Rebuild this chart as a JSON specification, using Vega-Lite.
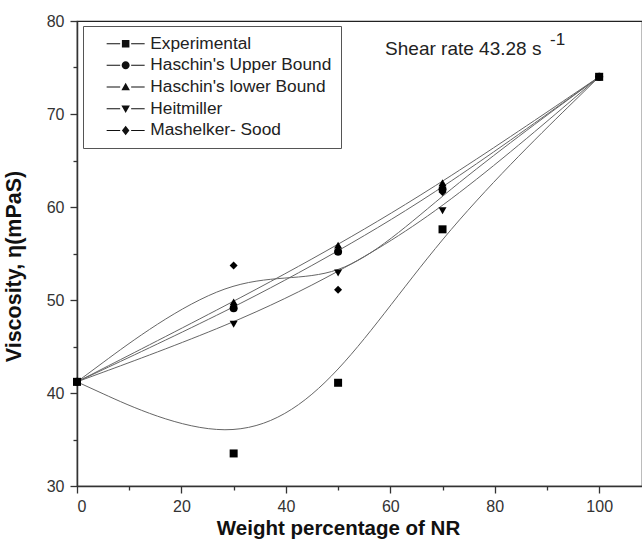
{
  "$schema": "https://vega.github.io/schema/vega-lite/v6.json",
  "width": 565,
  "height": 465,
  "autosize": "none",
  "padding": {"left": 77, "top": 21, "right": 0, "bottom": 55},
  "background": "white",
  "config": {
    "font": "Liberation Sans",
    "view": {"stroke": "#222", "strokeWidth": 1.2},
    "axis": {"domainColor": "#333", "domainWidth": 1.5, "tickColor": "#333", "tickWidth": 1.3, "labelFont": "Liberation Sans", "labelFontSize": 16, "labelColor": "#333", "titleFont": "Liberation Sans", "titleFontSize": 20.5, "titleFontWeight": "bold", "titleColor": "#111", "grid": false}
  },
  "data": {"values": [
    {"wt": 0, "visc": 41.2, "series": "Experimental"},
    {"wt": 30, "visc": 33.5, "series": "Experimental"},
    {"wt": 50, "visc": 41.1, "series": "Experimental"},
    {"wt": 70, "visc": 57.6, "series": "Experimental"},
    {"wt": 100, "visc": 74.0, "series": "Experimental"},
    {"wt": 0, "visc": 41.2, "series": "Haschin's Upper Bound"},
    {"wt": 30, "visc": 49.1, "series": "Haschin's Upper Bound"},
    {"wt": 50, "visc": 55.2, "series": "Haschin's Upper Bound"},
    {"wt": 70, "visc": 61.9, "series": "Haschin's Upper Bound"},
    {"wt": 100, "visc": 74.0, "series": "Haschin's Upper Bound"},
    {"wt": 0, "visc": 41.2, "series": "Haschin's lower Bound"},
    {"wt": 30, "visc": 49.8, "series": "Haschin's lower Bound"},
    {"wt": 50, "visc": 55.9, "series": "Haschin's lower Bound"},
    {"wt": 70, "visc": 62.6, "series": "Haschin's lower Bound"},
    {"wt": 100, "visc": 74.0, "series": "Haschin's lower Bound"},
    {"wt": 0, "visc": 41.2, "series": "Heitmiller"},
    {"wt": 30, "visc": 47.4, "series": "Heitmiller"},
    {"wt": 50, "visc": 52.9, "series": "Heitmiller"},
    {"wt": 70, "visc": 59.6, "series": "Heitmiller"},
    {"wt": 100, "visc": 74.0, "series": "Heitmiller"},
    {"wt": 0, "visc": 41.2, "series": "Mashelker- Sood"},
    {"wt": 30, "visc": 53.7, "series": "Mashelker- Sood"},
    {"wt": 50, "visc": 51.1, "series": "Mashelker- Sood"},
    {"wt": 70, "visc": 61.6, "series": "Mashelker- Sood"},
    {"wt": 100, "visc": 74.0, "series": "Mashelker- Sood"}
  ]},
  "encoding": {
    "x": {"field": "wt", "type": "quantitative", "scale": {"domain": [0, 108.2], "nice": false, "zero": false},
      "axis": {"title": "Weight percentage of NR", "values": [0,10,20,30,40,50,60,70,80,90,100], "labelExpr": "datum.value % 20 === 0 ? datum.label : ''", "tickSize": {"condition": {"test": "datum.value % 20 === 0", "value": 7}, "value": 4}, "labelPadding": 5, "titleX": 261, "titleY": 42, "titleAlign": "center", "titleBaseline": "middle", "titleAnchor": null}},
    "y": {"field": "visc", "type": "quantitative", "scale": {"domain": [30, 80], "nice": false, "zero": false},
      "axis": {"title": "Viscosity, η(mPaS)", "values": [30,35,40,45,50,55,60,65,70,75,80], "labelExpr": "datum.value % 10 === 0 ? datum.label : ''", "tickSize": {"condition": {"test": "datum.value % 10 === 0", "value": 7}, "value": 4}, "labelPadding": 6, "titleFontSize": 21.5, "titleX": -63, "titleY": 245, "titleAngle": -90, "titleAlign": "center", "titleBaseline": "middle", "titleAnchor": null}}
  },
  "layer": [
    {
      "mark": {"type": "line", "interpolate": "basis", "color": "#666", "strokeWidth": 1},
      "encoding": {"detail": {"field": "series"}}
    },
    {
      "mark": {"type": "point", "filled": true, "color": "#000", "opacity": 1, "size": 64},
      "encoding": {
        "shape": {"field": "series", "type": "nominal",
          "scale": {"domain": ["Experimental", "Haschin's Upper Bound", "Haschin's lower Bound", "Heitmiller", "Mashelker- Sood"], "range": ["square", "circle", "triangle-up", "triangle-down", "diamond"]},
          "legend": null}
      }
    },
    {
      "mark": {"type": "point", "filled": true, "color": "#111", "opacity": 0, "size": 100},
      "encoding": {
        "shape": {"field": "series", "type": "nominal",
          "scale": {"domain": ["Experimental", "Haschin's Upper Bound", "Haschin's lower Bound", "Heitmiller", "Mashelker- Sood"],
            "range": [
              "M-3.8,-0.1H-1.1V0.1H-3.8ZM1.1,-0.1H3.8V0.1H1.1ZM-0.75,-0.75H0.75V0.75H-0.75Z",
              "M-3.8,-0.1H-1.1V0.1H-3.8ZM1.1,-0.1H3.8V0.1H1.1ZM-0.8,0A0.8,0.8,0,1,0,0.8,0A0.8,0.8,0,1,0,-0.8,0Z",
              "M-3.8,-0.1H-1.1V0.1H-3.8ZM1.1,-0.1H3.8V0.1H1.1ZM0,-0.85L0.85,0.65H-0.85Z",
              "M-3.8,-0.1H-1.1V0.1H-3.8ZM1.1,-0.1H3.8V0.1H1.1ZM0,0.85L0.85,-0.65H-0.85Z",
              "M-3.8,-0.1H-1.1V0.1H-3.8ZM1.1,-0.1H3.8V0.1H1.1ZM0,-0.95L0.75,0L0,0.95L-0.75,0Z"
            ]},
          "legend": {"title": null, "orient": "none", "legendX": 6, "legendY": 5, "padding": 9, "rowPadding": 3.7,
            "strokeColor": "#555", "fillColor": "white", "symbolOpacity": 1, "symbolFillColor": "#000", "symbolStrokeWidth": 0, "symbolSize": 100,
            "symbolOffset": 25, "labelOffset": 16, "labelFontSize": 17.3, "labelFont": "Liberation Sans", "labelColor": "#222", "labelLimit": 300,
            "labelExpr": "datum.label + '   '"}}
      }
    },
    {
      "transform": [{"filter": "datum.wt === 100 && datum.series === 'Experimental'"}],
      "mark": {"type": "text", "align": "left", "baseline": "alphabetic", "fontSize": 19, "font": "Liberation Sans", "color": "#222", "text": "Shear rate 43.28 s"},
      "encoding": {"x": {"datum": 59}, "y": {"datum": 76.3}}
    },
    {
      "transform": [{"filter": "datum.wt === 100 && datum.series === 'Experimental'"}],
      "mark": {"type": "text", "align": "left", "baseline": "alphabetic", "fontSize": 17, "font": "Liberation Sans", "color": "#222", "text": "-1"},
      "encoding": {"x": {"datum": 90.6}, "y": {"datum": 77.4}}
    }
  ],
  "resolve": {"scale": {"shape": "independent"}}
}
